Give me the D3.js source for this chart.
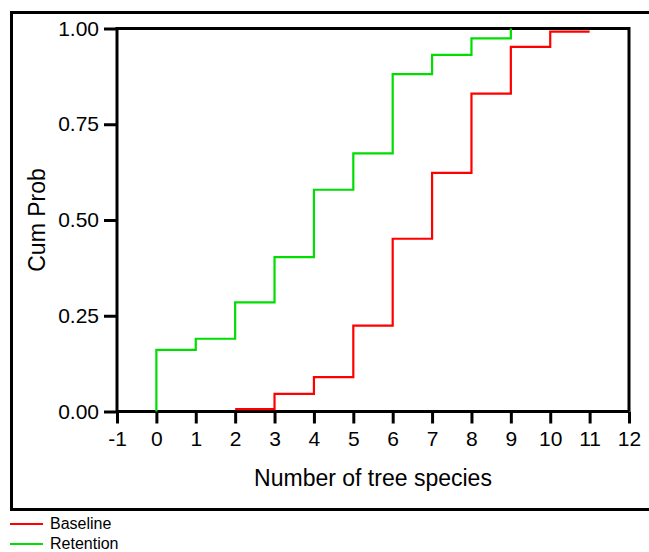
<!DOCTYPE html>
<html>
<head>
<meta charset="utf-8">
<script src="https://cdn.jsdelivr.net/npm/d3@7"></script>
<style>
  html, body { margin: 0; padding: 0; background: #fff; }
  svg { display: block; }
  text { font-family: "Liberation Sans", Arial, sans-serif; fill: #000; }
</style>
</head>
<body>
<svg id="chart" width="649" height="552"></svg>
<script>
// ---- data ----
const xTicks = [-1, 0, 1, 2, 3, 4, 5, 6, 7, 8, 9, 10, 11, 12];
const xTickLabels = ["-1", "0", "1", "2", "3", "4", "5", "6", "7", "8", "9", "10", "11", "12"];
const yTicks = [0, 0.25, 0.5, 0.75, 1.0];
const yTickLabels = ["0.00", "0.25", "0.50", "0.75", "1.00"];

const retentionCounts = [0, 0, 1, 2, 3, 4, 5, 6, 7, 8, 9];
const retentionCum    = [0, 0.161, 0.190, 0.285, 0.403, 0.579, 0.674, 0.881, 0.931, 0.974, 1.0];

const baselineCounts = [2, 3, 4, 5, 6, 7, 8, 9, 10, 11];
const baselineCum    = [0.006, 0.046, 0.090, 0.224, 0.451, 0.623, 0.830, 0.952, 0.992, 0.992];

const seriesNames  = ["Baseline", "Retention"];
const seriesColors = ["#ff0000", "#00dd00"];

const xTitle = "Number of tree species";
const yTitle = "Cum Prob";

// ---- layout ----
const svg = d3.select("#chart");
const L = 117, R = 629, T = 28.5, B = 411.5;

const x = d3.scaleLinear().domain([-1, 12]).range([L, R]);
const y = d3.scaleLinear().domain([0, 1]).range([B, T]);

// outer frame
svg.append("rect")
  .attr("x", 11.5).attr("y", 12.5).attr("width", 680).attr("height", 497)
  .attr("fill", "none").attr("stroke", "#000").attr("stroke-width", 3);

// plot frame (top and right)
svg.append("path")
  .attr("d", `M${L},${T}H${R}V${B}`)
  .attr("fill", "none").attr("stroke", "#000").attr("stroke-width", 3);

// axes
const xAxis = d3.axisBottom(x).tickValues(xTicks).tickSize(12).tickPadding(8)
  .tickFormat((d, i) => xTickLabels[i]);
const gx = svg.append("g").attr("transform", `translate(0,${B})`).call(xAxis);
gx.select(".domain").attr("stroke-width", 3).attr("d", `M${L},0H${R}`);
gx.selectAll(".tick line").attr("stroke-width", 3);
gx.selectAll(".tick text").attr("font-size", 21).attr("font-family", "Liberation Sans, Arial, sans-serif");

const yAxis = d3.axisLeft(y).tickValues(yTicks).tickSize(13).tickPadding(5)
  .tickFormat((d, i) => yTickLabels[i]);
const gy = svg.append("g").attr("transform", `translate(${L},0)`).call(yAxis);
gy.select(".domain").attr("stroke-width", 3).attr("d", `M0,${B + 1.5}V${T - 1.5}`);
gy.selectAll(".tick line").attr("stroke-width", 3);
gy.selectAll(".tick text").attr("font-size", 21).attr("font-family", "Liberation Sans, Arial, sans-serif");

// titles
svg.append("text")
  .attr("x", (L + R) / 2).attr("y", 486)
  .attr("text-anchor", "middle").attr("font-size", 23)
  .text(xTitle);
svg.append("text")
  .attr("transform", `translate(45,${(T + B) / 2}) rotate(-90)`)
  .attr("text-anchor", "middle").attr("font-size", 23)
  .text(yTitle);

// step lines
const line = d3.line().curve(d3.curveStepAfter).x(d => x(d[0])).y(d => y(d[1]));

const baseline = baselineCounts.map((c, i) => [c, baselineCum[i]]);
const retention = retentionCounts.map((c, i) => [c, retentionCum[i]]);

svg.append("path").datum(baseline)
  .attr("d", line).attr("fill", "none")
  .attr("stroke", seriesColors[0]).attr("stroke-width", 2.2);
svg.append("path").datum(retention)
  .attr("d", line).attr("fill", "none")
  .attr("stroke", seriesColors[1]).attr("stroke-width", 2.2);

// legend
seriesNames.forEach((name, i) => {
  const ly = 524 + i * 20;
  svg.append("line")
    .attr("x1", 10).attr("x2", 43).attr("y1", ly).attr("y2", ly)
    .attr("stroke", seriesColors[i]).attr("stroke-width", 2);
  svg.append("text")
    .attr("x", 50).attr("y", ly + 4.5)
    .attr("font-size", 16)
    .text(name);
});
</script>
</body>
</html>
